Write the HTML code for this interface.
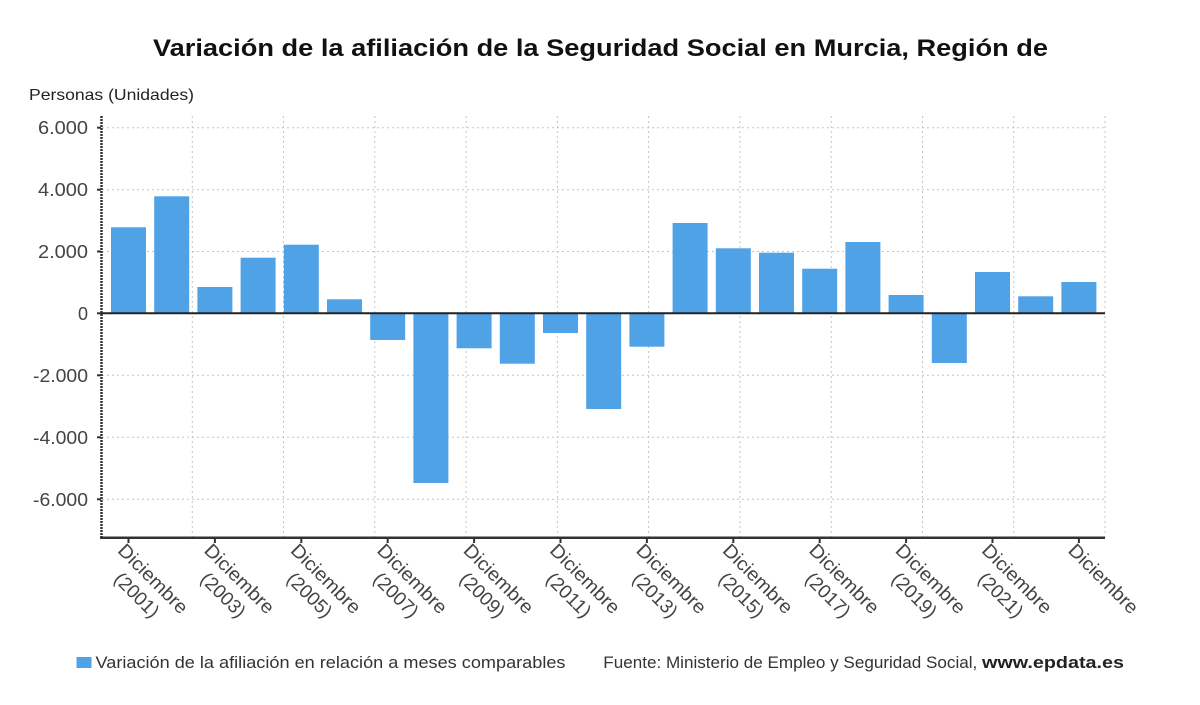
<!DOCTYPE html>
<html>
<head>
<meta charset="utf-8">
<style>
  html, body { margin:0; padding:0; background:#ffffff; }
  svg { display:block; }
  text { font-family: "Liberation Sans", "DejaVu Sans", sans-serif; }
</style>
</head>
<body>
<svg width="1200" height="705" viewBox="0 0 1200 705" xmlns="http://www.w3.org/2000/svg">
  <rect x="0" y="0" width="1200" height="705" fill="#ffffff"/>

  <!-- Title -->
  <text x="153" y="56" font-size="24" font-weight="bold" fill="#111" textLength="895" lengthAdjust="spacingAndGlyphs">Variación de la afiliación de la Seguridad Social en Murcia, Región de</text>

  <!-- Y axis title -->
  <text x="29" y="100" font-size="16" fill="#222" textLength="165" lengthAdjust="spacingAndGlyphs">Personas (Unidades)</text>

  <!-- Horizontal grid -->
  <g stroke="#c4c4c4" stroke-width="1" stroke-dasharray="2,3">
    <line x1="102" y1="127.7" x2="1105" y2="127.7"/>
    <line x1="102" y1="189.7" x2="1105" y2="189.7"/>
    <line x1="102" y1="251.5" x2="1105" y2="251.5"/>
    <line x1="102" y1="375.3" x2="1105" y2="375.3"/>
    <line x1="102" y1="437.3" x2="1105" y2="437.3"/>
    <line x1="102" y1="499.3" x2="1105" y2="499.3"/>
  </g>
  <!-- Vertical grid -->
  <g stroke="#c4c4c4" stroke-width="1" stroke-dasharray="2,3">
    <line x1="192.3" y1="116" x2="192.3" y2="537"/>
    <line x1="283.5" y1="116" x2="283.5" y2="537"/>
    <line x1="374.8" y1="116" x2="374.8" y2="537"/>
    <line x1="466.1" y1="116" x2="466.1" y2="537"/>
    <line x1="557.4" y1="116" x2="557.4" y2="537"/>
    <line x1="648.6" y1="116" x2="648.6" y2="537"/>
    <line x1="739.9" y1="116" x2="739.9" y2="537"/>
    <line x1="831.2" y1="116" x2="831.2" y2="537"/>
    <line x1="922.5" y1="116" x2="922.5" y2="537"/>
    <line x1="1013.7" y1="116" x2="1013.7" y2="537"/>
    <line x1="1105" y1="116" x2="1105" y2="537"/>
  </g>

  <!-- Bars -->
  <g fill="#50A2E6">
    <rect x="111" y="227.3" width="35" height="86"/>
    <rect x="154.2" y="196.3" width="35" height="117"/>
    <rect x="197.4" y="287" width="35" height="26.3"/>
    <rect x="240.6" y="257.7" width="35" height="55.6"/>
    <rect x="283.8" y="244.7" width="35" height="68.6"/>
    <rect x="327" y="299.3" width="35" height="14"/>
    <rect x="370.2" y="313.3" width="35" height="26.7"/>
    <rect x="413.4" y="313.3" width="35" height="169.7"/>
    <rect x="456.6" y="313.3" width="35" height="35"/>
    <rect x="499.8" y="313.3" width="35" height="50.4"/>
    <rect x="543" y="313.3" width="35" height="19.7"/>
    <rect x="586.2" y="313.3" width="35" height="95.7"/>
    <rect x="629.4" y="313.3" width="35" height="33.4"/>
    <rect x="672.6" y="223" width="35" height="90.3"/>
    <rect x="715.8" y="248.3" width="35" height="65"/>
    <rect x="759" y="252.7" width="35" height="60.6"/>
    <rect x="802.2" y="268.7" width="35" height="44.6"/>
    <rect x="845.4" y="242" width="35" height="71.3"/>
    <rect x="888.6" y="295" width="35" height="18.3"/>
    <rect x="931.8" y="313.3" width="35" height="49.7"/>
    <rect x="975" y="272" width="35" height="41.3"/>
    <rect x="1018.2" y="296.3" width="35" height="17"/>
    <rect x="1061.4" y="282" width="35" height="31.3"/>
  </g>

  <!-- Zero line -->
  <line x1="101" y1="313.3" x2="1105" y2="313.3" stroke="#222" stroke-width="2"/>

  <!-- Axes -->
  <line x1="101.5" y1="116" x2="101.5" y2="538" stroke="#333" stroke-width="2.5" stroke-dasharray="2,1"/>
  <line x1="100" y1="537.7" x2="1105" y2="537.7" stroke="#333" stroke-width="2.5"/>

  <!-- Y ticks -->
  <g stroke="#333" stroke-width="2">
    <line x1="97" y1="127.7" x2="101" y2="127.7"/>
    <line x1="97" y1="189.7" x2="101" y2="189.7"/>
    <line x1="97" y1="251.5" x2="101" y2="251.5"/>
    <line x1="97" y1="313.3" x2="101" y2="313.3"/>
    <line x1="97" y1="375.3" x2="101" y2="375.3"/>
    <line x1="97" y1="437.3" x2="101" y2="437.3"/>
    <line x1="97" y1="499.3" x2="101" y2="499.3"/>
  </g>
  <!-- Y labels -->
  <g font-size="18" fill="#444" text-anchor="end">
    <text x="88" y="134" textLength="50" lengthAdjust="spacingAndGlyphs">6.000</text>
    <text x="88" y="196" textLength="50" lengthAdjust="spacingAndGlyphs">4.000</text>
    <text x="88" y="258" textLength="50" lengthAdjust="spacingAndGlyphs">2.000</text>
    <text x="88" y="320">0</text>
    <text x="88" y="382" textLength="55" lengthAdjust="spacingAndGlyphs">-2.000</text>
    <text x="88" y="444" textLength="55" lengthAdjust="spacingAndGlyphs">-4.000</text>
    <text x="88" y="506" textLength="55" lengthAdjust="spacingAndGlyphs">-6.000</text>
  </g>

  <!-- X ticks -->
  <g stroke="#333" stroke-width="2">
    <line x1="128.5" y1="538" x2="128.5" y2="543"/>
    <line x1="214.9" y1="538" x2="214.9" y2="543"/>
    <line x1="301.3" y1="538" x2="301.3" y2="543"/>
    <line x1="387.7" y1="538" x2="387.7" y2="543"/>
    <line x1="474.1" y1="538" x2="474.1" y2="543"/>
    <line x1="560.5" y1="538" x2="560.5" y2="543"/>
    <line x1="646.9" y1="538" x2="646.9" y2="543"/>
    <line x1="733.3" y1="538" x2="733.3" y2="543"/>
    <line x1="819.7" y1="538" x2="819.7" y2="543"/>
    <line x1="906.1" y1="538" x2="906.1" y2="543"/>
    <line x1="992.5" y1="538" x2="992.5" y2="543"/>
    <line x1="1078.9" y1="538" x2="1078.9" y2="543"/>
  </g>

  <!-- X labels -->
  <g font-size="19" fill="#444" text-anchor="middle">
    <g transform="translate(128.5,542) rotate(45)"><text x="43.4" y="15" textLength="90" lengthAdjust="spacingAndGlyphs">Diciembre</text><text x="43.4" y="38" textLength="55" lengthAdjust="spacingAndGlyphs">(2001)</text></g>
    <g transform="translate(214.9,542) rotate(45)"><text x="43.4" y="15" textLength="90" lengthAdjust="spacingAndGlyphs">Diciembre</text><text x="43.4" y="38" textLength="55" lengthAdjust="spacingAndGlyphs">(2003)</text></g>
    <g transform="translate(301.3,542) rotate(45)"><text x="43.4" y="15" textLength="90" lengthAdjust="spacingAndGlyphs">Diciembre</text><text x="43.4" y="38" textLength="55" lengthAdjust="spacingAndGlyphs">(2005)</text></g>
    <g transform="translate(387.7,542) rotate(45)"><text x="43.4" y="15" textLength="90" lengthAdjust="spacingAndGlyphs">Diciembre</text><text x="43.4" y="38" textLength="55" lengthAdjust="spacingAndGlyphs">(2007)</text></g>
    <g transform="translate(474.1,542) rotate(45)"><text x="43.4" y="15" textLength="90" lengthAdjust="spacingAndGlyphs">Diciembre</text><text x="43.4" y="38" textLength="55" lengthAdjust="spacingAndGlyphs">(2009)</text></g>
    <g transform="translate(560.5,542) rotate(45)"><text x="43.4" y="15" textLength="90" lengthAdjust="spacingAndGlyphs">Diciembre</text><text x="43.4" y="38" textLength="55" lengthAdjust="spacingAndGlyphs">(2011)</text></g>
    <g transform="translate(646.9,542) rotate(45)"><text x="43.4" y="15" textLength="90" lengthAdjust="spacingAndGlyphs">Diciembre</text><text x="43.4" y="38" textLength="55" lengthAdjust="spacingAndGlyphs">(2013)</text></g>
    <g transform="translate(733.3,542) rotate(45)"><text x="43.4" y="15" textLength="90" lengthAdjust="spacingAndGlyphs">Diciembre</text><text x="43.4" y="38" textLength="55" lengthAdjust="spacingAndGlyphs">(2015)</text></g>
    <g transform="translate(819.7,542) rotate(45)"><text x="43.4" y="15" textLength="90" lengthAdjust="spacingAndGlyphs">Diciembre</text><text x="43.4" y="38" textLength="55" lengthAdjust="spacingAndGlyphs">(2017)</text></g>
    <g transform="translate(906.1,542) rotate(45)"><text x="43.4" y="15" textLength="90" lengthAdjust="spacingAndGlyphs">Diciembre</text><text x="43.4" y="38" textLength="55" lengthAdjust="spacingAndGlyphs">(2019)</text></g>
    <g transform="translate(992.5,542) rotate(45)"><text x="43.4" y="15" textLength="90" lengthAdjust="spacingAndGlyphs">Diciembre</text><text x="43.4" y="38" textLength="55" lengthAdjust="spacingAndGlyphs">(2021)</text></g>
    <g transform="translate(1078.9,542) rotate(45)"><text x="43.4" y="15" textLength="90" lengthAdjust="spacingAndGlyphs">Diciembre</text></g>
  </g>

  <!-- Legend -->
  <rect x="76.5" y="657" width="15" height="11" fill="#50A2E6"/>
  <text x="95.5" y="668" font-size="16.5" fill="#333" textLength="470" lengthAdjust="spacingAndGlyphs">Variación de la afiliación en relación a meses comparables</text>

  <!-- Source -->
  <text x="603.3" y="668" font-size="16.5" fill="#333" textLength="374" lengthAdjust="spacingAndGlyphs">Fuente: Ministerio de Empleo y Seguridad Social,</text>
  <text x="982" y="668" font-size="16.5" font-weight="bold" fill="#222" textLength="142" lengthAdjust="spacingAndGlyphs">www.epdata.es</text>
</svg>
</body>
</html>
